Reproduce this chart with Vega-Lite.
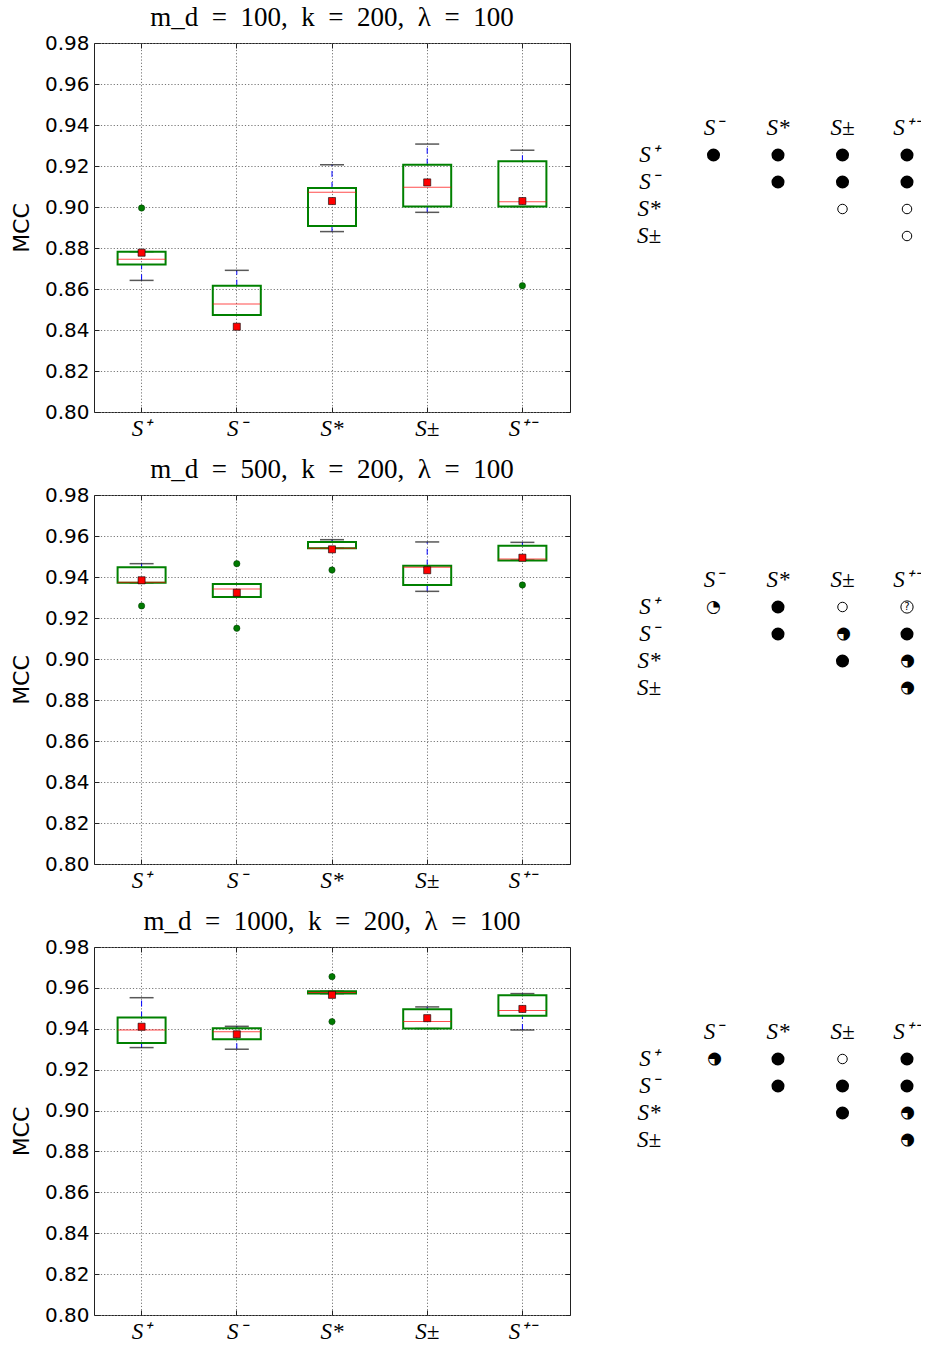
{
  "$schema": "https://vega.github.io/schema/vega-lite/v6.json",
  "padding": {"left": 9, "top": 3, "right": 0, "bottom": 0},
  "background": "white",
  "spacing": 14,
  "datasets": {
    "boxes": [
      {"panel": 1, "method": "S⁺", "lo": 0.8642, "q1": 0.8720, "med": 0.8745, "q3": 0.8782, "hi": 0.8782, "mean": 0.8777},
      {"panel": 1, "method": "S⁻", "lo": 0.8473, "q1": 0.8473, "med": 0.8527, "q3": 0.8616, "hi": 0.8691, "mean": 0.8416},
      {"panel": 1, "method": "S*", "lo": 0.8880, "q1": 0.8907, "med": 0.9072, "q3": 0.9093, "hi": 0.9206, "mean": 0.9029},
      {"panel": 1, "method": "S±", "lo": 0.8974, "q1": 0.9002, "med": 0.9096, "q3": 0.9206, "hi": 0.9307, "mean": 0.9120},
      {"panel": 1, "method": "S⁺⁻", "lo": 0.9002, "q1": 0.9002, "med": 0.9026, "q3": 0.9223, "hi": 0.9277, "mean": 0.9029},
      {"panel": 2, "method": "S⁺", "lo": 0.9372, "q1": 0.9372, "med": 0.9374, "q3": 0.9447, "hi": 0.9465, "mean": 0.9384},
      {"panel": 2, "method": "S⁻", "lo": 0.9302, "q1": 0.9302, "med": 0.9341, "q3": 0.9366, "hi": 0.9366, "mean": 0.9323},
      {"panel": 2, "method": "S*", "lo": 0.9540, "q1": 0.9540, "med": 0.9540, "q3": 0.9571, "hi": 0.9582, "mean": 0.9535},
      {"panel": 2, "method": "S±", "lo": 0.9330, "q1": 0.9361, "med": 0.9447, "q3": 0.9455, "hi": 0.9571, "mean": 0.9433},
      {"panel": 2, "method": "S⁺⁻", "lo": 0.9482, "q1": 0.9480, "med": 0.9488, "q3": 0.9553, "hi": 0.9569, "mean": 0.9494},
      {"panel": 3, "method": "S⁺", "lo": 0.9308, "q1": 0.9331, "med": 0.9394, "q3": 0.9455, "hi": 0.9552, "mean": 0.9410},
      {"panel": 3, "method": "S⁻", "lo": 0.9300, "q1": 0.9349, "med": 0.9385, "q3": 0.9403, "hi": 0.9412, "mean": 0.9373},
      {"panel": 3, "method": "S*", "lo": 0.9572, "q1": 0.9572, "med": 0.9577, "q3": 0.9584, "hi": 0.9584, "mean": 0.9566},
      {"panel": 3, "method": "S±", "lo": 0.9401, "q1": 0.9401, "med": 0.9435, "q3": 0.9496, "hi": 0.9507, "mean": 0.9452},
      {"panel": 3, "method": "S⁺⁻", "lo": 0.9394, "q1": 0.9464, "med": 0.9489, "q3": 0.9564, "hi": 0.9572, "mean": 0.9497}
    ],
    "outliers": [
      {"panel": 1, "method": "S⁺", "value": 0.8995},
      {"panel": 1, "method": "S⁺⁻", "value": 0.8616},
      {"panel": 2, "method": "S⁺", "value": 0.9259},
      {"panel": 2, "method": "S⁻", "value": 0.9465},
      {"panel": 2, "method": "S⁻", "value": 0.9150},
      {"panel": 2, "method": "S*", "value": 0.9434},
      {"panel": 2, "method": "S⁺⁻", "value": 0.9361},
      {"panel": 3, "method": "S*", "value": 0.9655},
      {"panel": 3, "method": "S*", "value": 0.9435}
    ],
    "labels": [
      {"col": "S⁻", "row": "hdr", "text": "S⁻"},
      {"col": "S*", "row": "hdr", "text": "S*"},
      {"col": "S±", "row": "hdr", "text": "S±"},
      {"col": "S⁺⁻", "row": "hdr", "text": "S⁺⁻"},
      {"col": "lab", "row": "S⁺", "text": "S⁺"},
      {"col": "lab", "row": "S⁻", "text": "S⁻"},
      {"col": "lab", "row": "S*", "text": "S*"},
      {"col": "lab", "row": "S±", "text": "S±"}
    ],
    "tests": [
      {"panel": 1, "row": "S⁺", "col": "S⁻", "sym": "full"},
      {"panel": 1, "row": "S⁺", "col": "S*", "sym": "full"},
      {"panel": 1, "row": "S⁺", "col": "S±", "sym": "full"},
      {"panel": 1, "row": "S⁺", "col": "S⁺⁻", "sym": "full"},
      {"panel": 1, "row": "S⁻", "col": "S*", "sym": "full"},
      {"panel": 1, "row": "S⁻", "col": "S±", "sym": "full"},
      {"panel": 1, "row": "S⁻", "col": "S⁺⁻", "sym": "full"},
      {"panel": 1, "row": "S*", "col": "S±", "sym": "empty"},
      {"panel": 1, "row": "S*", "col": "S⁺⁻", "sym": "empty"},
      {"panel": 1, "row": "S±", "col": "S⁺⁻", "sym": "empty"},
      {"panel": 2, "row": "S⁺", "col": "S⁻", "sym": "quarter"},
      {"panel": 2, "row": "S⁺", "col": "S*", "sym": "full"},
      {"panel": 2, "row": "S⁺", "col": "S±", "sym": "empty"},
      {"panel": 2, "row": "S⁺", "col": "S⁺⁻", "sym": "unknown"},
      {"panel": 2, "row": "S⁻", "col": "S*", "sym": "full"},
      {"panel": 2, "row": "S⁻", "col": "S±", "sym": "most"},
      {"panel": 2, "row": "S⁻", "col": "S⁺⁻", "sym": "full"},
      {"panel": 2, "row": "S*", "col": "S±", "sym": "full"},
      {"panel": 2, "row": "S*", "col": "S⁺⁻", "sym": "most"},
      {"panel": 2, "row": "S±", "col": "S⁺⁻", "sym": "most"},
      {"panel": 3, "row": "S⁺", "col": "S⁻", "sym": "most"},
      {"panel": 3, "row": "S⁺", "col": "S*", "sym": "full"},
      {"panel": 3, "row": "S⁺", "col": "S±", "sym": "empty"},
      {"panel": 3, "row": "S⁺", "col": "S⁺⁻", "sym": "full"},
      {"panel": 3, "row": "S⁻", "col": "S*", "sym": "full"},
      {"panel": 3, "row": "S⁻", "col": "S±", "sym": "full"},
      {"panel": 3, "row": "S⁻", "col": "S⁺⁻", "sym": "full"},
      {"panel": 3, "row": "S*", "col": "S±", "sym": "full"},
      {"panel": 3, "row": "S*", "col": "S⁺⁻", "sym": "most"},
      {"panel": 3, "row": "S±", "col": "S⁺⁻", "sym": "most"}
    ]
  },
  "vconcat": [
    {
      "bounds": "flush",
      "spacing": 79,
      "hconcat": [
        {
          "width": 476, "height": 369,
          "title": {"text": "m_d\u2002=\u2002100,\u2002k\u2002=\u2002200,\u2002λ\u2002=\u2002100"},
          "data": {"name": "boxes"},
          "transform": [{"filter": "datum.panel == 1"}],
          "encoding": {"x": {"field": "method", "type": "nominal", "sort": ["S⁺", "S⁻", "S*", "S±", "S⁺⁻"], "scale": {"domain": ["S⁺", "S⁻", "S*", "S±", "S⁺⁻"], "paddingInner": 0, "paddingOuter": 0}, "title": null}},
          "resolve": {"axis": {"x": "independent", "y": "independent"}},
          "layer": [
            {
              "layer": [
                {"mark": {"type": "rule", "color": "#0000ff", "strokeWidth": 1, "strokeDash": [6, 5]}, "encoding": {"y": {"field": "lo", "type": "quantitative", "scale": {"domain": [0.8, 0.98], "nice": false, "zero": false}, "title": "MCC", "axis": {"values": [0.8, 0.82, 0.84, 0.86, 0.88, 0.9, 0.92, 0.94, 0.96, 0.98], "format": ".2f"}}, "y2": {"field": "q1"}}},
                {"mark": {"type": "rule", "color": "#0000ff", "strokeWidth": 1, "strokeDash": [6, 5]}, "encoding": {"y": {"field": "q3", "type": "quantitative", "scale": {"domain": [0.8, 0.98], "nice": false, "zero": false}, "title": "MCC"}, "y2": {"field": "hi"}}},
                {"mark": {"type": "tick", "color": "#111", "size": 24, "thickness": 1.5}, "encoding": {"y": {"field": "lo", "type": "quantitative", "scale": {"domain": [0.8, 0.98], "nice": false, "zero": false}, "title": "MCC"}}},
                {"mark": {"type": "tick", "color": "#111", "size": 24, "thickness": 1.5}, "encoding": {"y": {"field": "hi", "type": "quantitative", "scale": {"domain": [0.8, 0.98], "nice": false, "zero": false}, "title": "MCC"}}},
                {"mark": {"type": "bar", "size": 48, "fill": "transparent", "stroke": "#008000", "strokeWidth": 2}, "encoding": {"y": {"field": "q1", "type": "quantitative", "scale": {"domain": [0.8, 0.98], "nice": false, "zero": false}, "title": "MCC"}, "y2": {"field": "q3"}}},
                {"mark": {"type": "tick", "color": "#ff0000", "size": 48, "thickness": 1}, "encoding": {"y": {"field": "med", "type": "quantitative", "scale": {"domain": [0.8, 0.98], "nice": false, "zero": false}, "title": "MCC"}}},
                {"mark": {"type": "point", "shape": "square", "filled": true, "fill": "#ff0000", "stroke": "#000", "strokeWidth": 0.6, "size": 50, "opacity": 1}, "encoding": {"y": {"field": "mean", "type": "quantitative", "scale": {"domain": [0.8, 0.98], "nice": false, "zero": false}, "title": "MCC"}}}
              ]
            },
            {"data": {"name": "outliers"}, "transform": [{"filter": "datum.panel == 1"}], "mark": {"type": "point", "shape": "circle", "filled": true, "fill": "#007a00", "stroke": "#003300", "strokeWidth": 0.5, "size": 40, "opacity": 1}, "encoding": {"x": {"field": "method", "type": "nominal", "sort": ["S⁺", "S⁻", "S*", "S±", "S⁺⁻"], "scale": {"domain": ["S⁺", "S⁻", "S*", "S±", "S⁺⁻"], "paddingInner": 0, "paddingOuter": 0}, "title": null, "axis": {"orient": "top", "labels": false, "grid": false}}, "y": {"field": "value", "type": "quantitative", "scale": {"domain": [0.8, 0.98], "nice": false, "zero": false}, "title": null, "axis": {"orient": "right", "labels": false, "grid": false, "values": [0.8, 0.82, 0.84, 0.86, 0.88, 0.9, 0.92, 0.94, 0.96, 0.98]}}}}
          ]
        },
        {
          "width": 258, "height": 369,
          "view": {"stroke": null},
          "layer": [
            {"data": {"name": "labels"}, "mark": {"type": "text", "font": "Liberation Serif", "fontStyle": "italic", "fontSize": 23, "color": "black"}, "encoding": {"x": {"field": "col", "type": "nominal", "scale": {"type": "point", "domain": ["lab", "S⁻", "S*", "S±", "S⁺⁻"], "padding": 0}, "axis": null}, "y": {"field": "row", "type": "nominal", "scale": {"type": "point", "domain": ["hdr", "S⁺", "S⁻", "S*", "S±"], "range": [85, 193], "padding": 0}, "axis": null}, "text": {"field": "text"}}},
            {"data": {"name": "tests"}, "transform": [{"filter": "datum.panel == 1 && datum.sym == 'full'"}], "mark": {"type": "point", "shape": "circle", "filled": true, "color": "black", "size": 170, "opacity": 1}, "encoding": {"x": {"field": "col", "type": "nominal", "scale": {"type": "point", "domain": ["lab", "S⁻", "S*", "S±", "S⁺⁻"], "padding": 0}, "axis": null}, "y": {"field": "row", "type": "nominal", "scale": {"type": "point", "domain": ["hdr", "S⁺", "S⁻", "S*", "S±"], "range": [85, 193], "padding": 0}, "axis": null}}},
            {"data": {"name": "tests"}, "transform": [{"filter": "datum.panel == 1 && datum.sym == 'empty'"}], "mark": {"type": "point", "shape": "circle", "filled": false, "stroke": "black", "fill": "white", "strokeWidth": 1, "size": 90, "opacity": 1}, "encoding": {"x": {"field": "col", "type": "nominal", "scale": {"type": "point", "domain": ["lab", "S⁻", "S*", "S±", "S⁺⁻"], "padding": 0}, "axis": null}, "y": {"field": "row", "type": "nominal", "scale": {"type": "point", "domain": ["hdr", "S⁺", "S⁻", "S*", "S±"], "range": [85, 193], "padding": 0}, "axis": null}}}
          ]
        }
      ]
    },
    {
      "bounds": "flush",
      "spacing": 79,
      "hconcat": [
        {
          "width": 476, "height": 369,
          "title": {"text": "m_d\u2002=\u2002500,\u2002k\u2002=\u2002200,\u2002λ\u2002=\u2002100"},
          "data": {"name": "boxes"},
          "transform": [{"filter": "datum.panel == 2"}],
          "encoding": {"x": {"field": "method", "type": "nominal", "sort": ["S⁺", "S⁻", "S*", "S±", "S⁺⁻"], "scale": {"domain": ["S⁺", "S⁻", "S*", "S±", "S⁺⁻"], "paddingInner": 0, "paddingOuter": 0}, "title": null}},
          "resolve": {"axis": {"x": "independent", "y": "independent"}},
          "layer": [
            {
              "layer": [
                {"mark": {"type": "rule", "color": "#0000ff", "strokeWidth": 1, "strokeDash": [6, 5]}, "encoding": {"y": {"field": "lo", "type": "quantitative", "scale": {"domain": [0.8, 0.98], "nice": false, "zero": false}, "title": "MCC", "axis": {"values": [0.8, 0.82, 0.84, 0.86, 0.88, 0.9, 0.92, 0.94, 0.96, 0.98], "format": ".2f"}}, "y2": {"field": "q1"}}},
                {"mark": {"type": "rule", "color": "#0000ff", "strokeWidth": 1, "strokeDash": [6, 5]}, "encoding": {"y": {"field": "q3", "type": "quantitative", "scale": {"domain": [0.8, 0.98], "nice": false, "zero": false}, "title": "MCC"}, "y2": {"field": "hi"}}},
                {"mark": {"type": "tick", "color": "#111", "size": 24, "thickness": 1.5}, "encoding": {"y": {"field": "lo", "type": "quantitative", "scale": {"domain": [0.8, 0.98], "nice": false, "zero": false}, "title": "MCC"}}},
                {"mark": {"type": "tick", "color": "#111", "size": 24, "thickness": 1.5}, "encoding": {"y": {"field": "hi", "type": "quantitative", "scale": {"domain": [0.8, 0.98], "nice": false, "zero": false}, "title": "MCC"}}},
                {"mark": {"type": "bar", "size": 48, "fill": "transparent", "stroke": "#008000", "strokeWidth": 2}, "encoding": {"y": {"field": "q1", "type": "quantitative", "scale": {"domain": [0.8, 0.98], "nice": false, "zero": false}, "title": "MCC"}, "y2": {"field": "q3"}}},
                {"mark": {"type": "tick", "color": "#ff0000", "size": 48, "thickness": 1}, "encoding": {"y": {"field": "med", "type": "quantitative", "scale": {"domain": [0.8, 0.98], "nice": false, "zero": false}, "title": "MCC"}}},
                {"mark": {"type": "point", "shape": "square", "filled": true, "fill": "#ff0000", "stroke": "#000", "strokeWidth": 0.6, "size": 50, "opacity": 1}, "encoding": {"y": {"field": "mean", "type": "quantitative", "scale": {"domain": [0.8, 0.98], "nice": false, "zero": false}, "title": "MCC"}}}
              ]
            },
            {"data": {"name": "outliers"}, "transform": [{"filter": "datum.panel == 2"}], "mark": {"type": "point", "shape": "circle", "filled": true, "fill": "#007a00", "stroke": "#003300", "strokeWidth": 0.5, "size": 40, "opacity": 1}, "encoding": {"x": {"field": "method", "type": "nominal", "sort": ["S⁺", "S⁻", "S*", "S±", "S⁺⁻"], "scale": {"domain": ["S⁺", "S⁻", "S*", "S±", "S⁺⁻"], "paddingInner": 0, "paddingOuter": 0}, "title": null, "axis": {"orient": "top", "labels": false, "grid": false}}, "y": {"field": "value", "type": "quantitative", "scale": {"domain": [0.8, 0.98], "nice": false, "zero": false}, "title": null, "axis": {"orient": "right", "labels": false, "grid": false, "values": [0.8, 0.82, 0.84, 0.86, 0.88, 0.9, 0.92, 0.94, 0.96, 0.98]}}}}
          ]
        },
        {
          "width": 258, "height": 369,
          "view": {"stroke": null},
          "layer": [
            {"data": {"name": "labels"}, "mark": {"type": "text", "font": "Liberation Serif", "fontStyle": "italic", "fontSize": 23, "color": "black"}, "encoding": {"x": {"field": "col", "type": "nominal", "scale": {"type": "point", "domain": ["lab", "S⁻", "S*", "S±", "S⁺⁻"], "padding": 0}, "axis": null}, "y": {"field": "row", "type": "nominal", "scale": {"type": "point", "domain": ["hdr", "S⁺", "S⁻", "S*", "S±"], "range": [85, 193], "padding": 0}, "axis": null}, "text": {"field": "text"}}},
            {"data": {"name": "tests"}, "transform": [{"filter": "datum.panel == 2 && datum.sym == 'full'"}], "mark": {"type": "point", "shape": "circle", "filled": true, "color": "black", "size": 170, "opacity": 1}, "encoding": {"x": {"field": "col", "type": "nominal", "scale": {"type": "point", "domain": ["lab", "S⁻", "S*", "S±", "S⁺⁻"], "padding": 0}, "axis": null}, "y": {"field": "row", "type": "nominal", "scale": {"type": "point", "domain": ["hdr", "S⁺", "S⁻", "S*", "S±"], "range": [85, 193], "padding": 0}, "axis": null}}},
            {"data": {"name": "tests"}, "transform": [{"filter": "datum.panel == 2 && datum.sym == 'empty'"}], "mark": {"type": "point", "shape": "circle", "filled": false, "stroke": "black", "fill": "white", "strokeWidth": 1, "size": 90, "opacity": 1}, "encoding": {"x": {"field": "col", "type": "nominal", "scale": {"type": "point", "domain": ["lab", "S⁻", "S*", "S±", "S⁺⁻"], "padding": 0}, "axis": null}, "y": {"field": "row", "type": "nominal", "scale": {"type": "point", "domain": ["hdr", "S⁺", "S⁻", "S*", "S±"], "range": [85, 193], "padding": 0}, "axis": null}}},
            {"data": {"name": "tests"}, "transform": [{"filter": "datum.panel == 2 && datum.sym == 'unknown'"}], "mark": {"type": "point", "shape": "circle", "filled": false, "stroke": "black", "fill": "white", "strokeWidth": 1, "size": 150, "opacity": 1}, "encoding": {"x": {"field": "col", "type": "nominal", "scale": {"type": "point", "domain": ["lab", "S⁻", "S*", "S±", "S⁺⁻"], "padding": 0}, "axis": null}, "y": {"field": "row", "type": "nominal", "scale": {"type": "point", "domain": ["hdr", "S⁺", "S⁻", "S*", "S±"], "range": [85, 193], "padding": 0}, "axis": null}}},
            {"data": {"name": "tests"}, "transform": [{"filter": "datum.panel == 2 && datum.sym == 'unknown'"}], "mark": {"type": "text", "text": "?", "font": "DejaVu Sans", "fontSize": 10, "color": "black"}, "encoding": {"x": {"field": "col", "type": "nominal", "scale": {"type": "point", "domain": ["lab", "S⁻", "S*", "S±", "S⁺⁻"], "padding": 0}, "axis": null}, "y": {"field": "row", "type": "nominal", "scale": {"type": "point", "domain": ["hdr", "S⁺", "S⁻", "S*", "S±"], "range": [85, 193], "padding": 0}, "axis": null}}},
            {"data": {"name": "tests"}, "transform": [{"filter": "datum.panel == 2 && datum.sym == 'quarter'"}], "mark": {"type": "text", "text": "◔", "font": "DejaVu Sans", "fontSize": 17, "color": "black"}, "encoding": {"x": {"field": "col", "type": "nominal", "scale": {"type": "point", "domain": ["lab", "S⁻", "S*", "S±", "S⁺⁻"], "padding": 0}, "axis": null}, "y": {"field": "row", "type": "nominal", "scale": {"type": "point", "domain": ["hdr", "S⁺", "S⁻", "S*", "S±"], "range": [85, 193], "padding": 0}, "axis": null}}},
            {"data": {"name": "tests"}, "transform": [{"filter": "datum.panel == 2 && datum.sym == 'most'"}], "mark": {"type": "text", "text": "◕", "font": "DejaVu Sans", "fontSize": 17, "angle": 270, "color": "black"}, "encoding": {"x": {"field": "col", "type": "nominal", "scale": {"type": "point", "domain": ["lab", "S⁻", "S*", "S±", "S⁺⁻"], "padding": 0}, "axis": null}, "y": {"field": "row", "type": "nominal", "scale": {"type": "point", "domain": ["hdr", "S⁺", "S⁻", "S*", "S±"], "range": [85, 193], "padding": 0}, "axis": null}}}
          ]
        }
      ]
    },
    {
      "bounds": "flush",
      "spacing": 79,
      "hconcat": [
        {
          "width": 476, "height": 368,
          "title": {"text": "m_d\u2002=\u20021000,\u2002k\u2002=\u2002200,\u2002λ\u2002=\u2002100"},
          "data": {"name": "boxes"},
          "transform": [{"filter": "datum.panel == 3"}],
          "encoding": {"x": {"field": "method", "type": "nominal", "sort": ["S⁺", "S⁻", "S*", "S±", "S⁺⁻"], "scale": {"domain": ["S⁺", "S⁻", "S*", "S±", "S⁺⁻"], "paddingInner": 0, "paddingOuter": 0}, "title": null}},
          "resolve": {"axis": {"x": "independent", "y": "independent"}},
          "layer": [
            {
              "layer": [
                {"mark": {"type": "rule", "color": "#0000ff", "strokeWidth": 1, "strokeDash": [6, 5]}, "encoding": {"y": {"field": "lo", "type": "quantitative", "scale": {"domain": [0.8, 0.98], "nice": false, "zero": false}, "title": "MCC", "axis": {"values": [0.8, 0.82, 0.84, 0.86, 0.88, 0.9, 0.92, 0.94, 0.96, 0.98], "format": ".2f"}}, "y2": {"field": "q1"}}},
                {"mark": {"type": "rule", "color": "#0000ff", "strokeWidth": 1, "strokeDash": [6, 5]}, "encoding": {"y": {"field": "q3", "type": "quantitative", "scale": {"domain": [0.8, 0.98], "nice": false, "zero": false}, "title": "MCC"}, "y2": {"field": "hi"}}},
                {"mark": {"type": "tick", "color": "#111", "size": 24, "thickness": 1.5}, "encoding": {"y": {"field": "lo", "type": "quantitative", "scale": {"domain": [0.8, 0.98], "nice": false, "zero": false}, "title": "MCC"}}},
                {"mark": {"type": "tick", "color": "#111", "size": 24, "thickness": 1.5}, "encoding": {"y": {"field": "hi", "type": "quantitative", "scale": {"domain": [0.8, 0.98], "nice": false, "zero": false}, "title": "MCC"}}},
                {"mark": {"type": "bar", "size": 48, "fill": "transparent", "stroke": "#008000", "strokeWidth": 2}, "encoding": {"y": {"field": "q1", "type": "quantitative", "scale": {"domain": [0.8, 0.98], "nice": false, "zero": false}, "title": "MCC"}, "y2": {"field": "q3"}}},
                {"mark": {"type": "tick", "color": "#ff0000", "size": 48, "thickness": 1}, "encoding": {"y": {"field": "med", "type": "quantitative", "scale": {"domain": [0.8, 0.98], "nice": false, "zero": false}, "title": "MCC"}}},
                {"mark": {"type": "point", "shape": "square", "filled": true, "fill": "#ff0000", "stroke": "#000", "strokeWidth": 0.6, "size": 50, "opacity": 1}, "encoding": {"y": {"field": "mean", "type": "quantitative", "scale": {"domain": [0.8, 0.98], "nice": false, "zero": false}, "title": "MCC"}}}
              ]
            },
            {"data": {"name": "outliers"}, "transform": [{"filter": "datum.panel == 3"}], "mark": {"type": "point", "shape": "circle", "filled": true, "fill": "#007a00", "stroke": "#003300", "strokeWidth": 0.5, "size": 40, "opacity": 1}, "encoding": {"x": {"field": "method", "type": "nominal", "sort": ["S⁺", "S⁻", "S*", "S±", "S⁺⁻"], "scale": {"domain": ["S⁺", "S⁻", "S*", "S±", "S⁺⁻"], "paddingInner": 0, "paddingOuter": 0}, "title": null, "axis": {"orient": "top", "labels": false, "grid": false}}, "y": {"field": "value", "type": "quantitative", "scale": {"domain": [0.8, 0.98], "nice": false, "zero": false}, "title": null, "axis": {"orient": "right", "labels": false, "grid": false, "values": [0.8, 0.82, 0.84, 0.86, 0.88, 0.9, 0.92, 0.94, 0.96, 0.98]}}}}
          ]
        },
        {
          "width": 258, "height": 368,
          "view": {"stroke": null},
          "layer": [
            {"data": {"name": "labels"}, "mark": {"type": "text", "font": "Liberation Serif", "fontStyle": "italic", "fontSize": 23, "color": "black"}, "encoding": {"x": {"field": "col", "type": "nominal", "scale": {"type": "point", "domain": ["lab", "S⁻", "S*", "S±", "S⁺⁻"], "padding": 0}, "axis": null}, "y": {"field": "row", "type": "nominal", "scale": {"type": "point", "domain": ["hdr", "S⁺", "S⁻", "S*", "S±"], "range": [85, 193], "padding": 0}, "axis": null}, "text": {"field": "text"}}},
            {"data": {"name": "tests"}, "transform": [{"filter": "datum.panel == 3 && datum.sym == 'full'"}], "mark": {"type": "point", "shape": "circle", "filled": true, "color": "black", "size": 170, "opacity": 1}, "encoding": {"x": {"field": "col", "type": "nominal", "scale": {"type": "point", "domain": ["lab", "S⁻", "S*", "S±", "S⁺⁻"], "padding": 0}, "axis": null}, "y": {"field": "row", "type": "nominal", "scale": {"type": "point", "domain": ["hdr", "S⁺", "S⁻", "S*", "S±"], "range": [85, 193], "padding": 0}, "axis": null}}},
            {"data": {"name": "tests"}, "transform": [{"filter": "datum.panel == 3 && datum.sym == 'empty'"}], "mark": {"type": "point", "shape": "circle", "filled": false, "stroke": "black", "fill": "white", "strokeWidth": 1, "size": 90, "opacity": 1}, "encoding": {"x": {"field": "col", "type": "nominal", "scale": {"type": "point", "domain": ["lab", "S⁻", "S*", "S±", "S⁺⁻"], "padding": 0}, "axis": null}, "y": {"field": "row", "type": "nominal", "scale": {"type": "point", "domain": ["hdr", "S⁺", "S⁻", "S*", "S±"], "range": [85, 193], "padding": 0}, "axis": null}}},
            {"data": {"name": "tests"}, "transform": [{"filter": "datum.panel == 3 && datum.sym == 'most'"}], "mark": {"type": "text", "text": "◕", "font": "DejaVu Sans", "fontSize": 17, "angle": 270, "color": "black"}, "encoding": {"x": {"field": "col", "type": "nominal", "scale": {"type": "point", "domain": ["lab", "S⁻", "S*", "S±", "S⁺⁻"], "padding": 0}, "axis": null}, "y": {"field": "row", "type": "nominal", "scale": {"type": "point", "domain": ["hdr", "S⁺", "S⁻", "S*", "S±"], "range": [85, 193], "padding": 0}, "axis": null}}}
          ]
        }
      ]
    }
  ],
  "config": {
    "view": {"stroke": "#222", "strokeWidth": 1},
    "title": {"font": "Liberation Serif", "fontSize": 27, "fontWeight": "normal", "color": "black", "offset": 1, "anchor": "middle"},
    "axis": {"labelColor": "black", "grid": true, "gridColor": "#777", "gridDash": [1.2, 2], "gridWidth": 1, "domain": false, "tickColor": "#222", "tickSize": -5, "tickWidth": 1},
    "axisX": {"labelFont": "Liberation Serif", "labelFontStyle": "italic", "labelFontSize": 23, "labelAngle": 0, "labelPadding": 10, "bandPosition": 0.5},
    "axisY": {"labelFont": "DejaVu Sans", "labelFontSize": 20, "labelPadding": 10, "titleFont": "DejaVu Sans", "titleFontSize": 22, "titleFontWeight": "normal", "titleColor": "black", "titlePadding": 11}
  }
}
